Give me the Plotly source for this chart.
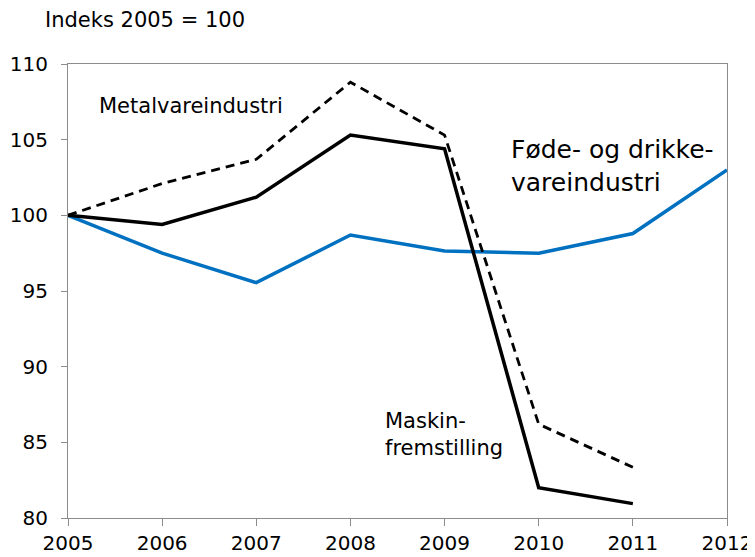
import plotly.graph_objects as go

years = [2005, 2006, 2007, 2008, 2009, 2010, 2011, 2012]
fode = [100, 97.5, 95.55, 98.7, 97.65, 97.5, 98.8, 103.0]
maskin = [100, 99.4, 101.2, 105.3, 104.4, 82.0, 80.95]
metal = [100, 102.1, 103.7, 108.8, 105.3, 86.2, 83.35]

FONT = "DejaVu Sans"
# page body adds an 8px offset; figure sized so the plot sits where the reference has it
W, H = 747, 549
L, R, T, B = 60, 28, 56, 39
PW, PH = W - L - R, H - T - B

fig = go.Figure()
fig.add_trace(go.Scatter(x=years, y=fode, mode="lines", name="Føde- og drikkevareindustri",
                         line=dict(color="#0070C0", width=3.5)))
fig.add_trace(go.Scatter(x=years[:7], y=metal, mode="lines", name="Metalvareindustri",
                         line=dict(color="black", width=2.8, dash="9px,6px")))
fig.add_trace(go.Scatter(x=years[:7], y=maskin, mode="lines", name="Maskinfremstilling",
                         line=dict(color="black", width=3.5)))

fig.update_layout(
    width=W, height=H,
    margin=dict(l=L, r=R, t=T, b=B),
    paper_bgcolor="white", plot_bgcolor="white",
    showlegend=False,
    font=dict(family=FONT, size=20, color="black"),
    xaxis=dict(range=[2005, 2012], tickvals=years, showgrid=False, zeroline=False,
               automargin=False,
               showline=True, linecolor="#8c8c8c", linewidth=1, mirror=True,
               ticks="outside", ticklen=7, tickcolor="#8c8c8c",
               tickfont=dict(family=FONT, size=20)),
    yaxis=dict(range=[80, 110], tickvals=[80, 85, 90, 95, 100, 105, 110], showgrid=False,
               automargin=False,
               zeroline=False, showline=True, linecolor="#8c8c8c", linewidth=1, mirror=True,
               ticks="outside", ticklen=6, tickcolor="#8c8c8c", ticklabelstandoff=9,
               tickfont=dict(family=FONT, size=20)),
    annotations=[
        dict(text="Indeks 2005 = 100", xref="paper", yref="paper",
             x=(35 - L) / PW, y=(H - B - 12) / PH,
             xanchor="left", yanchor="middle", showarrow=False, font=dict(size=21)),
        dict(text="Metalvareindustri", x=2005.31, y=107.25, xanchor="left", yanchor="middle",
             showarrow=False, font=dict(size=21)),
        dict(text="Føde- og drikke-<br>vareindustri", x=2009.68, y=103.25, xanchor="left",
             yanchor="middle", align="left", showarrow=False, font=dict(size=25)),
        dict(text="Maskin-<br>fremstilling", x=2008.35, y=85.55, xanchor="left",
             yanchor="middle", align="left", showarrow=False, font=dict(size=21)),
    ],
)
fig.write_html("out.html")
